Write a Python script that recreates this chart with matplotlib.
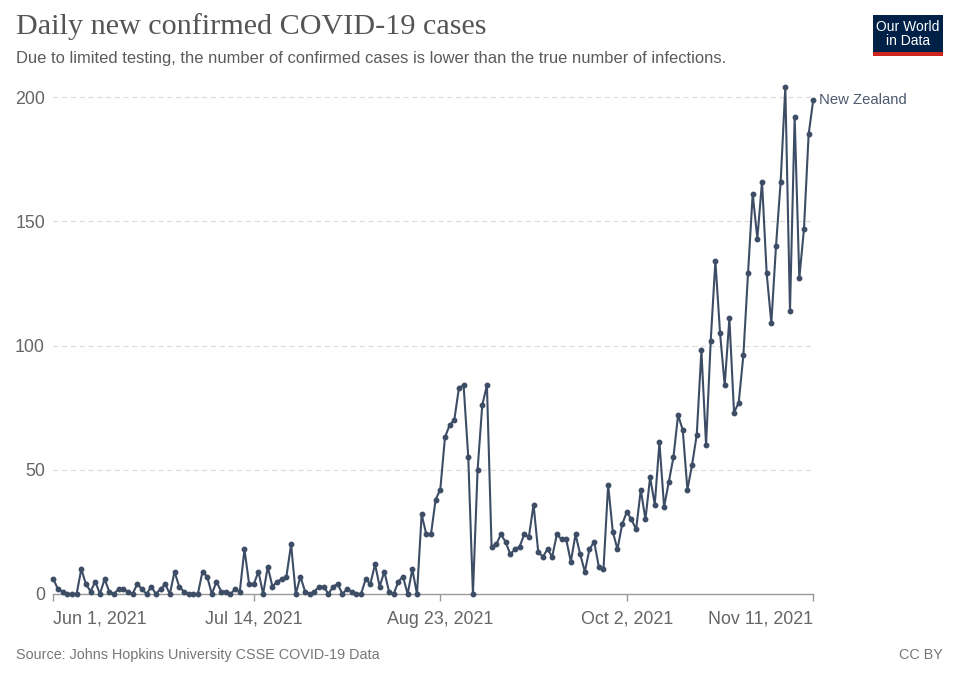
import matplotlib
matplotlib.use("Agg")
import matplotlib.pyplot as plt
import matplotlib.dates as mdates
import pandas as pd
from matplotlib.patches import Rectangle

start_date = "2021-06-01"
cases = [
    6, 2, 1, 0, 0, 0, 10, 4, 1, 5, 0, 6, 1, 0, 2, 2, 1, 0, 4, 2,
    0, 3, 0, 2, 4, 0, 9, 3, 1, 0, 0, 0, 9, 7, 0, 5, 1, 1, 0, 2,
    1, 18, 4, 4, 9, 0, 11, 3, 5, 6, 7, 20, 0, 7, 1, 0, 1, 3, 3, 0,
    3, 4, 0, 2, 1, 0, 0, 6, 4, 12, 3, 9, 1, 0, 5, 7, 0, 10, 0, 32,
    24, 24, 38, 42, 63, 68, 70, 83, 84, 55, 0, 50, 76, 84, 19, 20, 24, 21, 16, 18,
    19, 24, 23, 36, 17, 15, 18, 15, 24, 22, 22, 13, 24, 16, 9, 18, 21, 11, 10, 44,
    25, 18, 28, 33, 30, 26, 42, 30, 47, 36, 61, 35, 45, 55, 72, 66, 42, 52, 64, 98,
    60, 102, 134, 105, 84, 111, 73, 77, 96, 129, 161, 143, 166, 129, 109, 140, 166, 204, 114, 192,
    127, 147, 185, 199,
]
dates = pd.date_range(start_date, periods=len(cases), freq="D")
country = "New Zealand"
title = "Daily new confirmed COVID-19 cases"
subtitle = "Due to limited testing, the number of confirmed cases is lower than the true number of infections."
source = "Source: Johns Hopkins University CSSE COVID-19 Data"
license_text = "CC BY"
y_ticks = [0, 50, 100, 150, 200]
x_tick_dates = ["2021-06-01", "2021-07-14", "2021-08-23", "2021-10-02", "2021-11-11"]
x_tick_labels = ["Jun 1, 2021", "Jul 14, 2021", "Aug 23, 2021", "Oct 2, 2021", "Nov 11, 2021"]

line_color = "#3d4d66"
text_gray = "#666666"
sans = ["Liberation Sans", "DejaVu Sans"]

W, H = 960, 678
fig = plt.figure(figsize=(W / 100, H / 100), dpi=100)
fig.patch.set_facecolor("white")

ax_left, ax_right, ax_bottom, ax_top = 53.3, 813.3, 594, 84.6
ax = fig.add_axes([ax_left / W, (H - ax_bottom) / H, (ax_right - ax_left) / W, (ax_bottom - ax_top) / H])

x_dates = mdates.date2num(dates)
ax.plot(x_dates, cases, color=line_color, lw=1.5, marker="o", ms=3.2, zorder=3, clip_on=False)
ax.set_xlim(x_dates[0], x_dates[-1])
ax.set_ylim(0, 205)

for s in ["top", "right", "left"]:
    ax.spines[s].set_visible(False)
ax.spines["bottom"].set_color("#999999")
ax.spines["bottom"].set_linewidth(1.0)

ax.set_yticks(y_ticks)
ax.set_yticklabels([str(v) for v in y_ticks])
ax.tick_params(axis="y", length=0, pad=6, labelsize=12.8, labelcolor=text_gray)
for lab in ax.get_yticklabels():
    lab.set_family(sans)
for v in y_ticks[1:]:
    ax.axhline(v, color="#dddddd", lw=0.9, ls=(0, (4, 3)), zorder=1)

xt = mdates.date2num(pd.to_datetime(x_tick_dates))
ax.set_xticks(xt)
ax.set_xticklabels(x_tick_labels)
ax.tick_params(axis="x", length=5, width=1, color="#999999", pad=7, labelsize=12.9, labelcolor=text_gray)
labs = ax.get_xticklabels()
for lab in labs:
    lab.set_family(sans)
labs[0].set_ha("left")
labs[-1].set_ha("right")

ax.annotate(country, xy=(x_dates[-1], cases[-1]), xytext=(4, 0), textcoords="offset points",
            fontsize=10.7, color="#4c5a6e", family=sans, va="center", ha="left", annotation_clip=False)

fig.text(16 / W, 1 - 27 / H, title, fontsize=21.7, family=["Liberation Serif", "DejaVu Serif"],
         color="#555555", va="center", ha="left")
fig.text(16 / W, 1 - 58 / H, subtitle, fontsize=11.9, family=sans, color="#5b5b5b", va="center", ha="left")
fig.text(16 / W, 1 - 655 / H, source, fontsize=10.35, family=sans, color="#777777", va="center", ha="left")
fig.text(943 / W, 1 - 655 / H, license_text, fontsize=10.35, family=sans, color="#777777", va="center", ha="right")

# logo
lx0, lx1, ly0, ly1 = 873, 943, 15, 56
fig.patches.append(Rectangle((lx0 / W, 1 - ly1 / H), (lx1 - lx0) / W, (ly1 - ly0) / H,
                             transform=fig.transFigure, facecolor="#002147", edgecolor="none"))
fig.patches.append(Rectangle((lx0 / W, 1 - ly1 / H), (lx1 - lx0) / W, 4 / H,
                             transform=fig.transFigure, facecolor="#ce261e", edgecolor="none"))
fig.text((lx0 + lx1) / 2 / W, 1 - 34 / H, "Our World\nin Data", fontsize=10, family=sans, color="white",
         ha="center", va="center", linespacing=0.95)

fig.savefig("out.png", dpi=100, facecolor="white")
